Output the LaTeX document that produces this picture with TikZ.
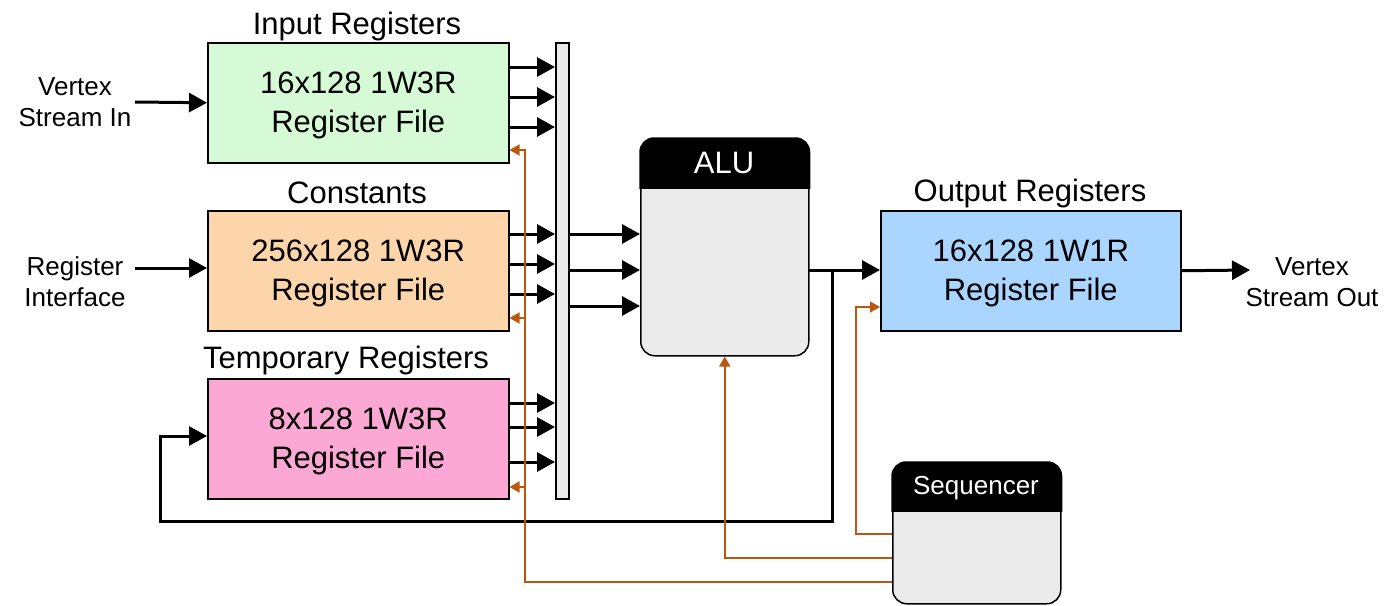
\documentclass[tikz,border=0pt]{standalone}
\usepackage{fontspec}
\setmainfont{Liberation Sans}
\usetikzlibrary{arrows.meta,calc}
\definecolor{ctrl}{RGB}{190,86,14}
\definecolor{ingreen}{RGB}{213,250,213}
\definecolor{conorange}{RGB}{252,214,170}
\definecolor{temppink}{RGB}{252,168,212}
\definecolor{outblue}{RGB}{170,213,255}
\definecolor{unitgray}{RGB}{235,235,235}
\begin{document}
\begin{tikzpicture}[x=1pt,y=-1pt,
  reg/.style={draw=black,line width=1.5pt,minimum width=301pt,minimum height=120pt,
    inner sep=0pt,anchor=north west},
  regtext/.style={align=center,font=\fontsize{31}{39}\selectfont,inner sep=0pt},
  ttl/.style={font=\fontsize{31}{36}\selectfont},
  lbl/.style={font=\fontsize{26}{31}\selectfont,align=center},
  unit/.style={draw=black,line width=1.5pt,fill=unitgray,rounded corners=14pt,
    inner sep=0pt,anchor=north west},
  data/.style={line width=3pt,-{Triangle[length=18pt,width=19pt]}},
  wire/.style={line width=3pt},
  ctl/.style={draw=ctrl,line width=1.6pt,-{Triangle[length=10pt,width=11pt]}},
]
\useasboundingbox (0,0) rectangle (1396,605);

% register files
\node[reg,fill=ingreen]   (in)  at (207,42)  {};
\node[reg,fill=conorange] (con) at (207,210) {};
\node[reg,fill=temppink]  (tmp) at (207,378) {};
\node[reg,fill=outblue,minimum width=300pt] (out) at (880,210) {};
\node[regtext] (inX)  at ([yshift=-3pt]in.center)  {16x128 1W3R\\Register File};
\node[regtext] (conX) at ([yshift=-3pt]con.center) {256x128 1W3R\\Register File};
\node[regtext] (tmpX) at ([yshift=-3pt]tmp.center) {8x128 1W3R\\Register File};
\node[regtext] (outX) at ([yshift=-3pt]out.center) {16x128 1W1R\\Register File};

\node[ttl] (inT)  at (357,26)  {Input Registers};
\node[ttl] (conT) at (357,193) {Constants};
\node[ttl] (tmpT) at (346,360) {Temporary Registers};
\node[ttl] (outT) at (1030,193) {Output Registers};

% operand bus
\node[draw=black,line width=1.5pt,fill=unitgray,minimum width=13pt,minimum height=456pt,
  inner sep=0pt,anchor=north west] (bus) at (555,42) {};

% ALU
\node[unit,minimum width=168pt,minimum height=217pt] (alu) at (640,138) {};
\draw[fill=black,line width=1.5pt] ([yshift=-50pt]alu.north west) [rounded corners=14pt]
  -- (alu.north west) -- (alu.north east) [sharp corners] -- ([yshift=-50pt]alu.north east) -- cycle;
\node[text=white,font=\fontsize{31}{36}\selectfont] (aluT) at (724,163) {ALU};

% sequencer
\node[unit,minimum width=168pt,minimum height=141pt] (seq) at (892,462) {};
\draw[fill=black,line width=1.5pt] ([yshift=-49pt]seq.north west) [rounded corners=14pt]
  -- (seq.north west) -- (seq.north east) [sharp corners] -- ([yshift=-49pt]seq.north east) -- cycle;
\node[text=white,font=\fontsize{26}{30}\selectfont] (seqT) at (976,488) {Sequencer};

% external labels
\node[lbl] (vin)  at (75,102)   {Vertex\\Stream In};
\node[lbl] (rif)  at (75,282)   {Register\\Interface};
\node[lbl] (vout) at (1312,282) {Vertex\\Stream Out};

\draw[data] (135,102) -- (in.west);
\draw[data] (135,268) -- (207,268);
\draw[data] (out.east) -- (1250,270);

% register reads onto the bus
\foreach \y in {67,97,127}     {\draw[data] (508,\y) -- (555,\y);}
\foreach \y in {234,264,294}   {\draw[data] (508,\y) -- (555,\y);}
\foreach \y in {403,427,462}   {\draw[data] (508,\y) -- (555,\y);}

% bus into ALU
\foreach \y in {234,270,306}   {\draw[data] (568,\y) -- (640,\y);}

% ALU result to output registers and back to the temporaries
\coordinate (res) at (808,270);
\coordinate (split) at (832,270);
\coordinate (loopA) at (832,521);
\coordinate (loopB) at (160,521);
\coordinate (loopC) at (160,436);
\draw[data] (res) -- (out.west |- res);
\draw[wire,line cap=rect] (split) -- (loopA) -- (loopB) -- (loopC);
\draw[data] (loopC) -- (tmp.west |- loopC);

% sequencer control lines
\coordinate (c1) at (892,534);
\coordinate (c2) at (892,558);
\coordinate (c3) at (892,582);
\draw[ctl] (c1) -- (856,534) -- (856,307) -- (out.west |- 0,307);
\draw[ctl] (c2) -- (alu.south |- c2) -- (alu.south);
\draw[ctl] (c3) -- (525,582) -- (525,150) -- (in.east |- 0,150);
\draw[ctl] (525,318) -- (con.east |- 0,318);
\draw[ctl] (525,487) -- (tmp.east |- 0,487);
\end{tikzpicture}
\end{document}
